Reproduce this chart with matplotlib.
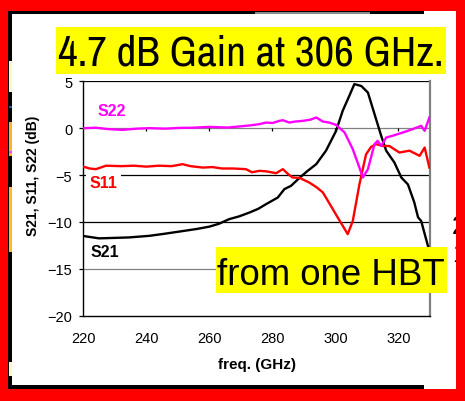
import matplotlib
matplotlib.use("Agg")
import matplotlib.pyplot as plt
from matplotlib import font_manager
from matplotlib.patches import Rectangle

W, H = 465, 402

# measured S-parameters of the single-HBT amplifier stage
s21_freq = [220, 225, 230, 234.6, 241, 246, 251, 256, 260, 263, 266.3, 269.5,
            272.7, 275.5, 278, 281.7, 283.8, 285.9, 288.6, 291, 293.9, 297,
            300.2, 302.3, 304.4, 306, 308.2, 310.3, 312.4, 314.5, 316.1, 318.7,
            320.9, 323, 325, 326.2, 327.2, 329.3, 330]
s21_db = [-11.5, -11.75, -11.7, -11.65, -11.48, -11.25, -11.0, -10.75, -10.5,
          -10.2, -9.7, -9.4, -9.0, -8.6, -8.1, -7.4, -6.5, -6.15, -5.3, -4.6,
          -3.84, -2.4, -0.29, 1.85, 3.45, 4.7, 4.5, 3.8, 1.5, -0.8, -2.4, -3.66,
          -5.26, -6.0, -7.9, -9.5, -9.9, -12.5, -13.2]

s11_freq = [220, 222, 224, 225.5, 227.2, 232, 236, 240, 244, 248, 251.5, 254,
            257.9, 261, 264, 267.4, 271.6, 273.5, 275.9, 278, 281.2, 283.3, 285,
            286.4, 288.6, 291.7, 294, 296, 299.1, 301.3, 303.9, 305.5, 307.6,
            309.7, 311.3, 312.9, 315, 317.1, 320.3, 323.5, 326.7, 328.3, 329.8]
s11_db = [-4.1, -4.3, -4.37, -4.2, -4.0, -4.05, -4.0, -4.1, -4.0, -4.05, -3.84,
          -4.05, -4.2, -4.15, -4.3, -4.3, -4.37, -4.7, -4.55, -4.6, -4.8, -4.37,
          -4.9, -5.26, -5.3, -5.8, -6.3, -6.85, -8.6, -9.85, -11.3, -9.9, -6.0,
          -2.8, -2.0, -1.7, -1.9, -1.9, -2.6, -2.4, -2.95, -2.06, -4.2]

s22_freq = [220, 224, 228, 232.5, 237, 241, 246, 250.5, 255, 260, 263, 266, 270,
            273, 275.9, 278, 280, 282.2, 283.3, 285.4, 287, 289.6, 292, 293.9,
            296, 298, 300.2, 302.9, 305.5, 307.6, 308.7, 310.3, 312.4, 313.4,
            314.5, 316.1, 318.2, 321.4, 324.5, 327.2, 328.3, 329.8]
s22_db = [0.0, 0.05, -0.1, -0.18, -0.05, 0.0, -0.05, 0.03, 0.05, 0.14, 0.1, 0.07,
          0.2, 0.3, 0.43, 0.6, 0.55, 0.78, 0.85, 0.6, 0.7, 0.78, 0.9, 1.14, 0.71,
          0.6, 0.35, -0.46, -2.24, -4.2, -5.26, -4.37, -1.7, -1.35, -1.9, -1.0,
          -0.8, -0.46, -0.1, 0.25, -0.28, 1.14]

x_ticks = [220, 240, 260, 280, 300, 320]
y_ticks = [-20, -15, -10, -5, 0, 5]

plt.rcParams["font.family"] = ["Liberation Sans", "DejaVu Sans"]

# a narrow face for the headline if one is installed
installed = {f.name for f in font_manager.fontManager.ttflist}
narrow = next((n for n in sorted(installed)
               if ("Narrow" in n or "Condensed" in n) and "Mono" not in n
               and "Serif" not in n), "Liberation Sans")


def fx(px):
    return px / W


def fy(py):
    return 1 - py / H


def fig_rect(fig, x0, y0, x1, y1, color, z):
    fig.add_artist(Rectangle((fx(x0), fy(y1)), fx(x1) - fx(x0), fy(y0) - fy(y1),
                             transform=fig.transFigure, facecolor=color,
                             edgecolor="none", zorder=z))


def fit_width(fig, txt, width_px):
    # shrink/grow the font until the text spans the wanted width
    r = fig.canvas.get_renderer()
    w = txt.get_window_extent(r).width
    txt.set_fontsize(txt.get_fontsize() * width_px / w)


fig = plt.figure(figsize=(W / 100, H / 100), dpi=100, facecolor="white")
ax = fig.add_axes([fx(83.3), fy(316.7), fx(430) - fx(83.3), fy(82.3) - fy(316.7)])

# horizontal grid, drawn by hand so each line keeps its own shade
for yv, col in zip([5, 0, -5, -10, -15], ["black", "#808080", "black", "black", "#808080"]):
    ax.axhline(yv, color=col, lw=0.9, zorder=1)
ax.vlines(x_ticks[1:], -0.35, 0, color="black", lw=0.9, zorder=1)

ax.plot(s21_freq, s21_db, color="black", lw=1.7, zorder=3)
ax.plot(s11_freq, s11_db, color="#ff0000", lw=1.7, zorder=3)
ax.plot(s22_freq, s22_db, color="#ff00ff", lw=1.7, zorder=3)

ax.text(224.4, 1.9, "S22", color="#ff00ff", fontsize=11.5, fontweight="bold",
        va="center", ha="left", zorder=4)
ax.text(221.9, -5.75, "S11", color="#ff0000", fontsize=11.5, fontweight="bold",
        va="center", ha="left", zorder=2,
        bbox=dict(facecolor="white", edgecolor="none", pad=2.5))
ax.text(222.4, -13.2, "S21", color="black", fontsize=11.5, fontweight="bold",
        va="center", ha="left", zorder=4)

ax.set_xlim(220, 330)
ax.set_ylim(-20, 5)
ax.set_xticks(x_ticks)
ax.set_yticks(y_ticks)
ax.tick_params(axis="x", length=0, pad=11, labelsize=10.5)
ax.tick_params(axis="y", length=3, width=0.9, pad=5, labelsize=10.5, direction="out")
ax.spines["top"].set_visible(False)
ax.spines["right"].set_color("#808080")
ax.spines["right"].set_linewidth(1.6)
for s in ("left", "bottom"):
    ax.spines[s].set_color("black")
    ax.spines[s].set_linewidth(1.0)

fig.text(fx(256.5), fy(365), "freq. (GHz)", fontsize=11, fontweight="bold",
         ha="center", va="center")
fig.text(fx(33.5), fy(176), "S21, S11, S22 (dB)", fontsize=10, fontweight="bold",
         rotation=90, ha="center", va="center")

# highlighted captions
fig_rect(fig, 56, 28, 446, 75, "#ffff00", 5)
headline = fig.text(fx(251), fy(65), "4.7 dB Gain at 306 GHz.", fontsize=32,
                    family=[narrow, "Liberation Sans"],
                    ha="center", va="baseline", zorder=6)
fit_width(fig, headline, 386)
fig_rect(fig, 216, 248, 446.5, 294, "#ffff00", 5)
sub = fig.text(fx(330.5), fy(285), "from one HBT", fontsize=28,
               ha="center", va="baseline", zorder=6)
fit_width(fig, sub, 228)

# slide frame around the chart
fig_rect(fig, 8, 12, 12, 390, "black", 7)
fig_rect(fig, 8, 12, 424, 15, "black", 7)
fig_rect(fig, 8, 386, 424, 390, "black", 7)
fig_rect(fig, 255, 12.5, 370, 14.5, "#8a8a8a", 7.5)
for y0, y1, col in [(62, 93, "#fff4c8"), (107, 109, "#3050c0"), (123, 157, "#ffb030"),
                    (152, 154, "#ff40ff"), (188, 253, "#ffb830"), (363, 377, "#fff4c8")]:
    fig_rect(fig, 8.5, y0, 12, y1, col, 7.5)
fig.text(fx(452), fy(234), "2", fontsize=18, color="black", ha="left",
         va="baseline", zorder=6)
fig.text(fx(452), fy(262), "1", fontsize=18, color="black", ha="left",
         va="baseline", zorder=6)

fig_rect(fig, 0, 0, W, 12, "#ff0000", 8)
fig_rect(fig, 0, 0, 8, H, "#ff0000", 8)
fig_rect(fig, 456, 0, W, H, "#ff0000", 8)
fig_rect(fig, 0, 390, W, H, "#ff0000", 8)

fig.savefig("out.png", dpi=100, facecolor="white")
